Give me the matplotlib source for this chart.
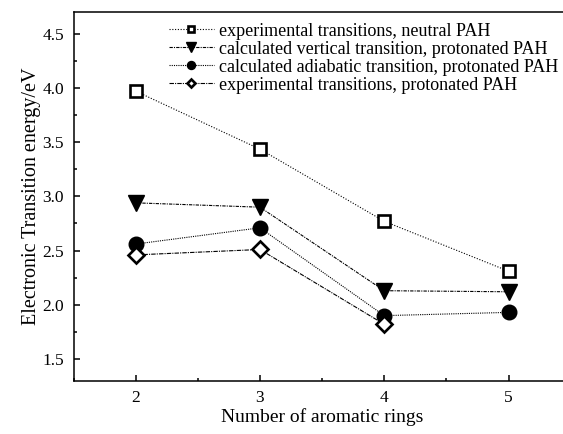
import matplotlib
matplotlib.use('Agg')
import matplotlib.pyplot as plt
from matplotlib.ticker import MultipleLocator

plt.rcParams['font.family'] = ['Liberation Serif', 'DejaVu Serif']

rings = [2, 3, 4, 5]
exp_neutral = [3.97, 3.435, 2.77, 2.31]
calc_vertical = [2.94, 2.90, 2.13, 2.12]
calc_adiabatic = [2.56, 2.71, 1.90, 1.93]
rings_exp_prot = [2, 3, 4]
exp_protonated = [2.46, 2.51, 1.82]

labels = ['experimental transitions, neutral PAH',
          'calculated vertical transition, protonated PAH',
          'calculated adiabatic transition, protonated PAH',
          'experimental transitions, protonated PAH']

fig = plt.figure(figsize=(5.63, 4.34), dpi=100)
ax = fig.add_axes([0.1306, 0.1228, 0.883, 0.8496])

line_kw = dict(color='black', lw=0.8)
ax.plot(rings, exp_neutral, linestyle=(0, (1, 1.5)), marker='s', ms=8, mfc='white',
        mec='black', mew=1.9, label=labels[0], **line_kw)
ax.plot(rings, calc_vertical, linestyle=(0, (3, 1, 1, 1)), marker='v', ms=12, mfc='black',
        mec='black', label=labels[1], **line_kw)
ax.plot(rings, calc_adiabatic, linestyle=(0, (1, 1)), marker='o', ms=10.5, mfc='black',
        mec='black', label=labels[2], **line_kw)
ax.plot(rings_exp_prot, exp_protonated, linestyle=(0, (4, 1, 1, 1)), marker='D', ms=8, mfc='white',
        mec='black', mew=1.9, label=labels[3], **line_kw)

ax.set_xlim(1.5, 5.5)
ax.set_ylim(1.3, 4.7)
ax.xaxis.set_major_locator(MultipleLocator(1))
ax.xaxis.set_minor_locator(MultipleLocator(0.5))
ax.yaxis.set_major_locator(MultipleLocator(0.5))
ax.yaxis.set_minor_locator(MultipleLocator(0.25))
ax.tick_params(which='both', direction='in', top=False, right=False, width=1.1)
ax.tick_params(which='major', length=4.5, labelsize=12.5)
ax.tick_params(which='minor', length=2.5)
ax.tick_params(axis='y', pad=7)
ax.tick_params(axis='x', pad=7)
for s in ax.spines.values():
    s.set_linewidth(1.1)

ax.set_xlabel('Number of aromatic rings', fontsize=14, labelpad=1)
ax.set_ylabel('Electronic Transition energy/eV', fontsize=14.5, labelpad=1)

ax.legend(loc='upper left', bbox_to_anchor=(0.17, 1.0), frameon=False, fontsize=13,
          markerscale=0.55, handlelength=2.5, handletextpad=0.3, labelspacing=0.05,
          borderpad=0.1)

fig.savefig('out.png', dpi=100)
